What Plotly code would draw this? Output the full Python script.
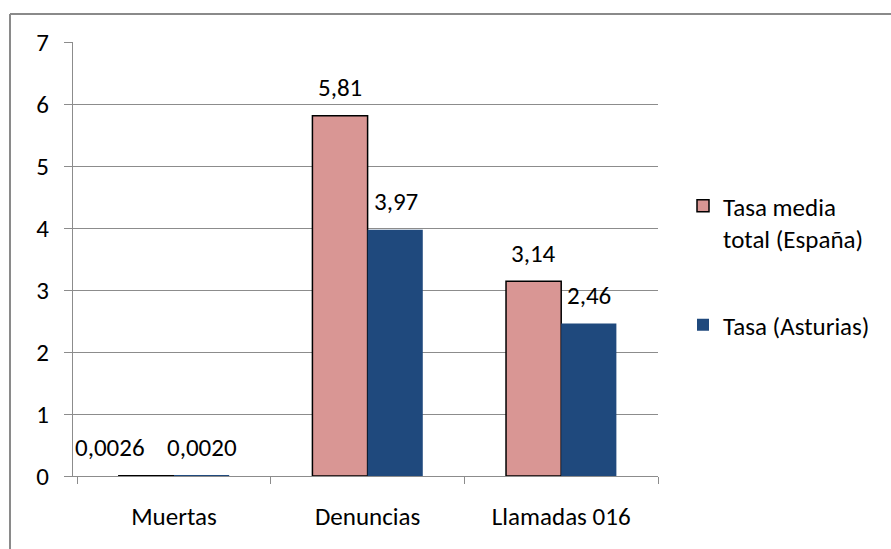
import plotly.graph_objects as go

categories = ["Muertas", "Denuncias", "Llamadas 016"]
espana = [0.0026, 5.81, 3.14]
asturias = [0.0020, 3.97, 2.46]
series_names = ["Tasa media<br>total (España)", "Tasa (Asturias)"]
y_ticks = [0, 1, 2, 3, 4, 5, 6, 7]

PINK = "#D99694"
BLUE = "#1F497D"
GRID = "#8C8C8C"
FONT = "Carlito, Lato, sans-serif"
FS = 25

W, H = 891, 549
L, R, T, B = 73, 233, 42, 73


def fmt(v):
    s = f"{v:.4f}" if v < 0.01 else f"{v:.2f}"
    return s.replace(".", ",")


fig = go.Figure()
fig.add_trace(go.Bar(x=categories, y=espana, name=series_names[0], legendgroup="g1",
                     marker=dict(color=PINK, line=dict(color="#000000", width=1.5))))
fig.add_trace(go.Bar(x=categories, y=asturias, name=series_names[1], legendgroup="g2",
                     marker=dict(color=BLUE, line=dict(color=BLUE, width=0))))

ann = []
for i, c in enumerate(categories):
    for s, (vals, dx) in enumerate(((espana, -28), (asturias, 28))):
        shift = dx
        # the tiny first label is pushed left in the reference so it does not collide
        if i == 0 and s == 0:
            shift = -64
        ann.append(dict(x=c, y=vals[i], xref="x", yref="y", text=fmt(vals[i]),
                        showarrow=False, xshift=shift, yshift=28, yanchor="middle",
                        font=dict(family=FONT, size=FS, color="#000000")))

pw = W - L - R
ph = H - T - B
def px_x(p):
    return (p - L) / pw
def px_y(p):
    return 1 - (p - T) / ph

shapes = [
    dict(type="line", xref="paper", yref="paper", x0=px_x(10), x1=px_x(W + 5),
         y0=px_y(14), y1=px_y(14), line=dict(color="#8A8A8A", width=2)),
    dict(type="line", xref="paper", yref="paper", x0=px_x(10), x1=px_x(10),
         y0=px_y(14), y1=px_y(H + 5), line=dict(color="#8A8A8A", width=2)),
]

fig.update_layout(
    width=W, height=H,
    margin=dict(l=L, r=R, t=T, b=B, pad=0),
    paper_bgcolor="white", plot_bgcolor="white",
    font=dict(family=FONT, size=FS, color="#000000"),
    barmode="group", bargap=0.43, bargroupgap=0,
    showlegend=True,
    legend=dict(x=px_x(683), y=px_y(183), xanchor="left", yanchor="top",
                font=dict(family=FONT, size=FS), valign="top",
                traceorder="grouped", tracegroupgap=51, bgcolor="rgba(0,0,0,0)"),
    annotations=ann,
    shapes=shapes,
    xaxis=dict(showline=True, linecolor=GRID, linewidth=1.2,
               ticks="outside", tickson="boundaries", ticklen=7, tickcolor=GRID,
               tickwidth=1.2, showgrid=False, ticklabelstandoff=18,
               tickfont=dict(family=FONT, size=FS)),
    yaxis=dict(range=[0, 7], tickvals=y_ticks, showline=True, linecolor=GRID,
               linewidth=1.2, ticks="outside", ticklen=8, tickcolor=GRID, tickwidth=1.2,
               showgrid=True, gridcolor=GRID, gridwidth=1.2, zeroline=False,
               ticklabelstandoff=10, tickfont=dict(family=FONT, size=FS)),
)

fig.write_html("out.html", config={"displayModeBar": False},
               post_script="document.body.style.margin='0px';")
